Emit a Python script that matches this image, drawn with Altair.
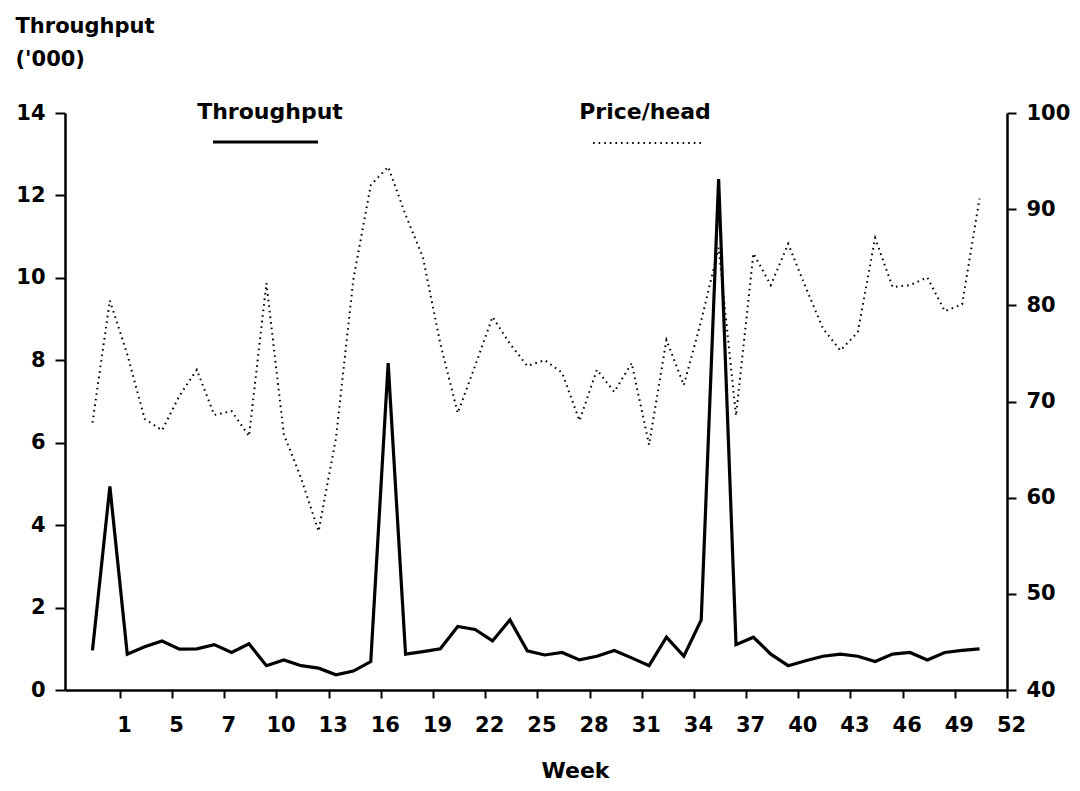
import altair as alt
import pandas as pd

# ---- data ----
weeks = [1, 2, 3, 4, 5, 6, 7, 8, 9, 10, 11, 12, 13, 14, 15, 16, 17, 18, 19, 20,
         21, 22, 23, 24, 25, 26, 27, 28, 29, 30, 31, 32, 33, 34, 35, 36, 37, 38, 39, 40,
         41, 42, 43, 44, 45, 46, 47, 48, 49, 50, 51, 52]
throughput = [0.96, 4.94, 0.87, 1.05, 1.19, 0.99, 1.00, 1.10, 0.91, 1.12,
              0.59, 0.73, 0.59, 0.53, 0.37, 0.46, 0.69, 7.93, 0.87, 0.93,
              1.00, 1.54, 1.47, 1.19, 1.70, 0.95, 0.85, 0.91, 0.73, 0.82,
              0.96, 0.78, 0.59, 1.28, 0.82, 1.70, 12.40, 1.10, 1.28, 0.87,
              0.59, 0.71, 0.82, 0.87, 0.82, 0.69, 0.87, 0.91, 0.73, 0.91,
              0.96, 1.00]
price = [67.8, 80.5, 74.9, 68.2, 67.0, 70.6, 73.3, 68.6, 69.0, 66.4,
         82.3, 66.6, 62.0, 56.5, 66.2, 82.7, 92.5, 94.4, 89.4, 85.0,
         76.0, 68.8, 73.7, 78.8, 76.0, 73.7, 74.3, 73.0, 68.0, 73.3,
         71.0, 74.0, 65.5, 76.4, 71.7, 78.4, 86.0, 68.5, 85.4, 82.1,
         86.4, 81.9, 77.6, 75.3, 77.2, 87.0, 81.9, 82.1, 82.9, 79.4,
         80.1, 91.1]
week_tick_labels = ["1", "5", "7", "10", "13", "16", "19", "22", "25", "28",
                    "31", "34", "37", "40", "43", "46", "49", "52"]
left_ticks = [0, 2, 4, 6, 8, 10, 12, 14]
right_ticks = [40, 50, 60, 70, 80, 90, 100]
legend_labels = ["Throughput", "Price/head"]

df = pd.DataFrame({"week": weeks, "throughput": throughput, "price": price})

FONT = "DejaVu Sans"
FS = 21
W, H = 942, 577

# axis tick positions (labels sit offset from the data points, as in the original)
first_tick = 2.58
tick_vals = [round(first_tick + 3 * j, 2) for j in range(len(week_tick_labels))]
label_expr = ("[" + ",".join("'" + t + "'" for t in week_tick_labels) + "]"
              + f"[round((datum.value - {first_tick}) / 3)]")

axis_common = dict(
    domainColor="black", domainWidth=2.5, tickColor="black", tickWidth=2,
    labelFont=FONT, labelFontSize=FS, labelFontWeight="bold", labelColor="black",
    grid=False, labelOverlap=False, labelFlush=False,
)

x_enc = alt.X(
    "week:Q",
    scale=alt.Scale(domain=[-0.58, 53.58], nice=False, zero=False),
    axis=alt.Axis(values=tick_vals, labelExpr=label_expr, title="Week",
                  tickSize=8, labelPadding=16, labelOffset=4,
                  titleFont=FONT, titleFontSize=22, titleFontWeight="bold",
                  titleColor="black", titleX=510, titleY=70,
                  titleBaseline="top", titleAlign="center", **axis_common),
)

thr = alt.Chart(df).mark_line(color="black", strokeWidth=3.2, strokeJoin="miter").encode(
    x=x_enc,
    y=alt.Y("throughput:Q",
            scale=alt.Scale(domain=[0, 14], nice=False),
            axis=alt.Axis(values=left_ticks, orient="left",
                          title=["Throughput", "('000)"], titleAngle=0,
                          titleX=-50, titleY=-98, titleAlign="left",
                          titleBaseline="top", titleLineHeight=33,
                          titleFont=FONT, titleFontSize=21, titleFontWeight="bold",
                          titleColor="black",
                          tickSize=10, labelPadding=10, **axis_common)),
)

prc = alt.Chart(df).mark_line(color="black", strokeWidth=2, strokeDash=[1.6, 4],
                              strokeCap="butt").encode(
    x=x_enc,
    y=alt.Y("price:Q",
            scale=alt.Scale(domain=[40, 100], nice=False, zero=False),
            axis=alt.Axis(values=right_ticks, orient="right", title=None,
                          tickSize=9, labelPadding=10, **axis_common)),
)

leg_text_style = dict(font=FONT, fontSize=22, fontWeight="bold", color="black",
                      align="center", baseline="alphabetic")

leg_t1 = alt.Chart(pd.DataFrame({"t": [legend_labels[0]]})).mark_text(**leg_text_style).encode(
    text="t:N", x=alt.value(205), y=alt.value(6))
leg_t2 = alt.Chart(pd.DataFrame({"t": [legend_labels[1]]})).mark_text(**leg_text_style).encode(
    text="t:N", x=alt.value(580), y=alt.value(6))
leg_l1 = alt.Chart(pd.DataFrame({"t": [legend_labels[0]]})).mark_rule(
    color="black", strokeWidth=3).encode(x=alt.value(148), x2=alt.value(253), y=alt.value(29))
leg_l2 = alt.Chart(pd.DataFrame({"t": [legend_labels[1]]})).mark_rule(
    color="black", strokeWidth=2, strokeDash=[1.6, 4]).encode(
    x=alt.value(528), x2=alt.value(638), y=alt.value(30))

chart = alt.layer(thr, prc, leg_t1, leg_t2, leg_l1, leg_l2).resolve_scale(
    y="independent"
).properties(
    width=W, height=H,
    padding={"left": 57, "top": 105, "right": 65, "bottom": 93},
    autosize=alt.AutoSizeParams(type="none"),
    background="white",
).configure_view(stroke=None)

chart.save("out.html", embed_options={"renderer": "svg", "actions": False})
